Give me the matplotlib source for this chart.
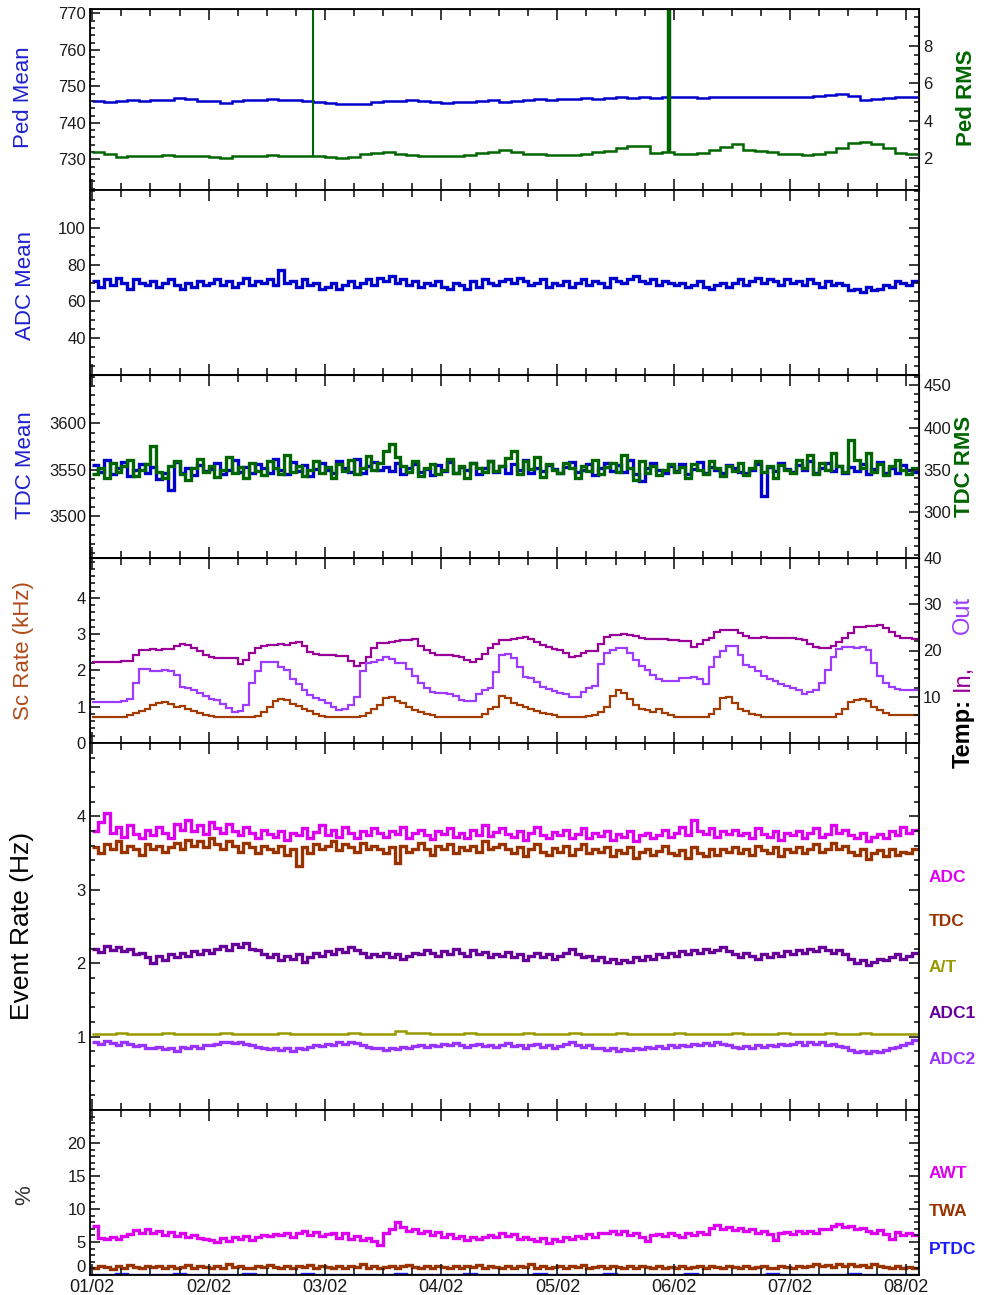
import numpy as np
import matplotlib
matplotlib.use("Agg")
import matplotlib.pyplot as plt
from matplotlib.ticker import MultipleLocator, FixedLocator

plt.rcParams['font.family'] = ['Liberation Sans', 'DejaVu Sans']

# ---------------- data (time in days since 01/02) ----------------
day_labels = ['01/02', '02/02', '03/02', '04/02', '05/02', '06/02', '07/02', '08/02']
T_START, T_END = 0.0, 7.1

# Panel 1: pedestal mean (left) and pedestal RMS (right), 0.1-day bins
ped_mean = [745.9, 745.8, 746.0, 746.2, 746.1, 746.3, 746.2, 746.8, 746.6, 746.1,
            746.0, 745.4, 745.9, 746.2, 746.3, 746.6, 746.3, 746.2, 745.9, 745.8,
            745.5, 745.1, 745.1, 745.3, 745.6, 746.0, 746.1, 746.3, 746.0, 745.6,
            745.5, 745.6, 745.8, 746.0, 746.2, 745.8, 746.1, 746.4, 746.5, 746.2,
            746.6, 746.5, 746.8, 746.6, 746.9, 747.0, 746.9, 747.0, 746.9, 747.0,
            747.0, 747.1, 746.9, 747.1, 747.2, 747.1, 747.0, 747.1, 747.0, 747.1,
            747.0, 747.2, 747.4, 747.6, 747.8, 747.4, 746.4, 746.6, 746.9, 747.0,
            747.0]
ped_rms = [2.35, 2.20, 2.05, 2.10, 2.12, 2.10, 2.15, 2.10, 2.12, 2.10,
           2.05, 2.02, 2.10, 2.12, 2.10, 2.15, 2.10, 2.12, 2.10, 2.10,
           2.08, 2.02, 2.05, 2.20, 2.25, 2.30, 2.22, 2.15, 2.12, 2.10,
           2.10, 2.12, 2.15, 2.25, 2.35, 2.42, 2.35, 2.22, 2.20, 2.18,
           2.18, 2.15, 2.20, 2.30, 2.40, 2.55, 2.62, 2.65, 2.25, 2.30,
           2.20, 2.20, 2.25, 2.45, 2.60, 2.75, 2.45, 2.40, 2.30, 2.22,
           2.20, 2.18, 2.20, 2.35, 2.55, 2.80, 2.85, 2.75, 2.55, 2.25,
           2.20]
ped_rms_spike_day = [1.90, 4.96]
ped_rms_spike_top = [12.0, 12.0]
ped_rms_spike_base = [2.12, 2.28]

# Panel 2: ADC mean, 0.05-day bins
adc_mean = [71, 68, 72, 69, 73, 70, 67, 72, 70, 69,
            71, 68, 70, 72, 69, 67, 70, 68, 71, 69,
            70, 72, 69, 71, 68, 70, 73, 69, 71, 70,
            72, 69, 77, 70, 71, 68, 72, 69, 70, 67,
            68, 70, 67, 69, 71, 68, 70, 72, 69, 73,
            71, 74, 70, 72, 69, 71, 68, 70, 69, 71,
            68, 67, 70, 69, 67, 71, 68, 72, 70, 69,
            71, 72, 70, 73, 71, 69, 70, 72, 68, 70,
            69, 71, 68, 70, 72, 69, 71, 70, 68, 73,
            71, 70, 72, 74, 71, 70, 72, 69, 71, 70,
            69, 70, 68, 69, 71, 68, 67, 69, 70, 68,
            70, 72, 69, 71, 73, 70, 72, 71, 69, 72,
            70, 71, 69, 72, 70, 68, 71, 69, 70, 69,
            66, 67, 65, 68, 66, 67, 69, 68, 71, 70,
            69, 71]

# Panel 3: TDC mean (left) and TDC RMS (right), 0.05-day bins
tdc_mean = [3555, 3548, 3560, 3545, 3552, 3558, 3543, 3550, 3556, 3547,
            3553, 3540, 3546, 3528, 3558, 3546, 3552, 3544, 3555, 3549,
            3551, 3557, 3545, 3550, 3560, 3548, 3553, 3546, 3556, 3552,
            3547, 3562, 3550, 3545, 3558, 3549, 3555, 3543, 3551, 3557,
            3550, 3546, 3559, 3552, 3548, 3562, 3547, 3554, 3558, 3550,
            3553, 3549, 3557, 3545, 3552, 3556, 3548, 3551, 3544, 3555,
            3549, 3558, 3546, 3553, 3550, 3557, 3545, 3552, 3559, 3548,
            3554, 3547, 3556, 3550, 3560, 3546, 3552, 3549, 3555, 3551,
            3546, 3553, 3558, 3548, 3550, 3556, 3544, 3552, 3557, 3549,
            3555, 3548, 3560, 3545, 3538, 3552, 3557, 3550, 3546, 3554,
            3549, 3556, 3545, 3551, 3558, 3547, 3553, 3550, 3546, 3555,
            3552, 3548, 3546, 3550, 3556, 3522, 3553, 3549, 3557, 3551,
            3548, 3555, 3550, 3559, 3546, 3552, 3557, 3549, 3554, 3547,
            3553, 3549, 3556, 3545, 3551, 3558, 3547, 3552, 3546, 3555,
            3550, 3548]
tdc_rms = [345, 352, 340, 358, 347, 355, 362, 343, 350, 357,
           378, 348, 340, 355, 360, 345, 338, 352, 363, 347,
           355, 342, 350, 365, 346, 353, 340, 358, 349, 344,
           360, 352, 345, 367, 348, 355, 343, 350, 361, 346,
           353, 341, 357, 349, 362, 345, 352, 366, 350, 358,
           372, 380, 365, 355, 347, 360, 343, 352, 357, 345,
           350, 363, 346, 355, 341, 358, 352, 347, 360, 349,
           355, 364, 372, 345, 360, 351, 365, 342, 357, 350,
           346, 358, 352, 340, 355, 349, 362, 345, 353, 358,
           347, 368, 352, 338, 360, 346, 355, 344, 350, 357,
           348, 354, 340, 357, 350, 345, 360, 352, 343, 355,
           349, 358, 344, 352, 361, 347, 355, 341, 356, 350,
           346, 362, 352, 368, 345, 358, 350, 370, 355, 348,
           385, 362, 352, 370, 348, 357, 344, 355, 362, 350,
           345, 352]

# Panel 4: scaler rate (kHz, left) and temperatures In / Out (right), 0.05-day bins
sc_rate = [0.72, 0.72, 0.72, 0.72, 0.72, 0.73, 0.78, 0.82, 0.88, 0.95,
           1.05, 1.10, 1.12, 1.08, 1.00, 1.02, 0.95, 0.88, 0.82, 0.78,
           0.75, 0.73, 0.72, 0.72, 0.72, 0.72, 0.72, 0.72, 0.75, 0.85,
           1.00, 1.15, 1.20, 1.18, 1.08, 1.02, 0.95, 0.88, 0.80, 0.75,
           0.72, 0.72, 0.72, 0.72, 0.72, 0.72, 0.75, 0.82, 0.95, 1.05,
           1.25, 1.28, 1.15, 1.10, 1.00, 0.92, 0.85, 0.80, 0.76, 0.73,
           0.72, 0.72, 0.72, 0.72, 0.72, 0.72, 0.72, 0.80, 0.95, 1.00,
           1.30, 1.25, 1.10, 1.05, 0.98, 0.95, 0.88, 0.82, 0.80, 0.76,
           0.72, 0.72, 0.72, 0.72, 0.72, 0.75, 0.76, 0.85, 1.00, 1.30,
           1.45, 1.38, 1.20, 1.05, 0.95, 0.90, 0.85, 0.95, 0.82, 0.76,
           0.72, 0.72, 0.72, 0.72, 0.72, 0.72, 0.80, 0.95, 1.25, 1.28,
           1.10, 0.95, 0.88, 0.80, 0.76, 0.73, 0.72, 0.72, 0.72, 0.72,
           0.72, 0.72, 0.72, 0.72, 0.72, 0.72, 0.72, 0.72, 0.80, 0.95,
           1.12, 1.18, 1.20, 1.15, 1.00, 0.90, 0.82, 0.78, 0.78, 0.78,
           0.78, 0.78]
temp_in = [17.5, 17.5, 17.6, 17.5, 17.5, 17.7, 17.8, 19.0, 20.1, 20.2,
           20.3, 20.2, 20.4, 20.3, 21.0, 21.4, 21.2, 20.5, 19.8, 19.0,
           18.6, 18.4, 18.4, 18.3, 18.4, 17.0, 18.0, 19.5, 20.5, 21.0,
           21.2, 21.2, 21.3, 21.2, 21.6, 21.9, 21.0, 19.7, 19.2, 19.0,
           19.0, 19.0, 18.8, 18.9, 17.8, 16.6, 17.2, 18.5, 20.5, 21.6,
           21.6, 21.8, 22.0, 22.3, 22.3, 22.4, 21.0, 20.2, 19.5, 19.0,
           19.0, 19.1, 18.8, 18.5, 18.0, 17.6, 18.2, 19.3, 20.5, 21.5,
           22.3, 22.3, 22.5, 22.6, 23.0, 22.4, 21.8, 21.2, 20.8, 20.4,
           20.1, 19.5, 18.6, 18.8, 19.5, 19.9, 19.9, 21.5, 23.0, 23.4,
           23.4, 23.5, 23.4, 23.2, 22.6, 22.5, 22.5, 22.4, 22.5, 22.3,
           22.2, 22.0, 22.0, 20.8, 21.5, 22.3, 22.8, 24.0, 24.4, 24.5,
           24.4, 23.8, 23.2, 22.8, 22.8, 22.9, 22.8, 22.7, 22.8, 22.8,
           22.7, 22.5, 22.3, 21.5, 20.8, 20.6, 20.5, 21.0, 21.8, 22.7,
           23.8, 25.0, 25.1, 25.2, 25.3, 25.5, 24.8, 24.0, 23.1, 22.8,
           22.6, 22.4]
temp_out = [8.9, 8.9, 8.9, 8.9, 8.9, 9.0, 9.5, 13.0, 16.1, 16.0,
            15.6, 15.6, 15.7, 15.5, 14.7, 12.2, 12.0, 11.5, 10.8, 10.2,
            9.6, 9.3, 8.5, 7.5, 6.7, 6.9, 8.2, 13.0, 15.5, 17.6,
            17.6, 17.5, 16.5, 15.8, 13.8, 12.8, 11.5, 10.4, 9.8, 9.3,
            8.6, 7.8, 7.1, 7.4, 8.2, 10.0, 15.5, 17.3, 17.6, 18.0,
            18.7, 18.2, 17.3, 17.3, 16.0, 14.5, 13.0, 12.0, 11.0, 10.8,
            10.8, 10.6, 10.2, 9.4, 9.1, 9.1, 10.5, 11.5, 12.0, 15.4,
            19.0, 19.3, 18.4, 16.5, 14.3, 14.0, 13.2, 12.2, 11.6, 11.2,
            10.8, 10.6, 10.0, 10.0, 11.0, 11.8, 12.3, 17.0, 19.5, 20.2,
            20.5, 20.6, 19.5, 18.0, 16.6, 15.8, 14.8, 13.8, 13.3, 13.3,
            13.5, 14.0, 14.0, 14.2, 13.8, 12.8, 16.5, 18.7, 20.0, 21.0,
            21.0, 19.0, 16.9, 16.4, 15.5, 14.5, 13.8, 13.3, 12.8, 12.4,
            12.0, 11.5, 10.7, 11.0, 11.5, 13.0, 15.8, 18.5, 20.3, 20.8,
            20.8, 20.6, 20.8, 20.2, 17.3, 14.5, 13.0, 12.2, 11.6, 11.5,
            11.5, 11.5]

# Panel 5: event rates (Hz), 0.05-day bins
rate_adc = [3.80, 3.92, 4.05, 3.78, 3.85, 3.72, 3.88, 3.76, 3.70, 3.82,
            3.74, 3.86, 3.78, 3.70, 3.90, 3.82, 3.95, 3.80, 3.88, 3.76,
            3.92, 3.84, 3.78, 3.90, 3.80, 3.74, 3.85, 3.78, 3.70, 3.82,
            3.76, 3.72, 3.80, 3.68, 3.78, 3.74, 3.84, 3.70, 3.79, 3.88,
            3.75, 3.82, 3.72, 3.86, 3.78, 3.70, 3.80, 3.74, 3.84, 3.77,
            3.72, 3.80, 3.76, 3.86, 3.70, 3.78, 3.82, 3.74, 3.69, 3.80,
            3.76, 3.84, 3.72, 3.78, 3.70, 3.82, 3.75, 3.88, 3.73, 3.79,
            3.84, 3.76, 3.72, 3.80, 3.68, 3.78, 3.85, 3.74, 3.70, 3.79,
            3.74, 3.82, 3.70, 3.76, 3.84, 3.71, 3.78, 3.73, 3.80, 3.68,
            3.76, 3.72, 3.80, 3.66, 3.74, 3.78, 3.70, 3.75, 3.82, 3.72,
            3.78, 3.86, 3.74, 3.95, 3.80, 3.76, 3.84, 3.72, 3.80, 3.76,
            3.82, 3.74, 3.78, 3.70, 3.84, 3.76, 3.72, 3.80, 3.68, 3.77,
            3.74, 3.80, 3.70, 3.78, 3.84, 3.72, 3.76, 3.88, 3.78, 3.82,
            3.74, 3.70, 3.78, 3.66, 3.72, 3.76, 3.70, 3.80, 3.74, 3.86,
            3.78, 3.82]
rate_tdc = [3.58, 3.50, 3.62, 3.55, 3.66, 3.52, 3.60, 3.56, 3.48, 3.62,
            3.55, 3.60, 3.52, 3.58, 3.64, 3.56, 3.68, 3.60, 3.66, 3.58,
            3.70, 3.62, 3.56, 3.66, 3.60, 3.52, 3.64, 3.58, 3.50, 3.60,
            3.56, 3.52, 3.60, 3.48, 3.56, 3.32, 3.58, 3.50, 3.62, 3.55,
            3.60, 3.66, 3.54, 3.62, 3.58, 3.52, 3.64, 3.56, 3.60, 3.55,
            3.50, 3.58, 3.36, 3.60, 3.52, 3.56, 3.64, 3.55, 3.48, 3.60,
            3.56, 3.62, 3.50, 3.58, 3.54, 3.60, 3.52, 3.66, 3.55, 3.58,
            3.62, 3.55, 3.50, 3.58, 3.46, 3.56, 3.62, 3.52, 3.48, 3.57,
            3.52, 3.60, 3.48, 3.55, 3.62, 3.50, 3.56, 3.52, 3.58, 3.46,
            3.54, 3.50, 3.58, 3.44, 3.52, 3.56, 3.48, 3.53, 3.60, 3.50,
            3.48, 3.54, 3.44, 3.58, 3.50, 3.46, 3.55, 3.48, 3.56, 3.52,
            3.58, 3.50, 3.55, 3.48, 3.60, 3.54, 3.50, 3.58, 3.46, 3.55,
            3.52, 3.58, 3.50, 3.56, 3.62, 3.52, 3.55, 3.64, 3.56, 3.60,
            3.52, 3.48, 3.55, 3.42, 3.50, 3.54, 3.46, 3.56, 3.48, 3.52,
            3.50, 3.56]
rate_adc1 = [2.20, 2.15, 2.24, 2.18, 2.22, 2.16, 2.20, 2.12, 2.14, 2.08,
             2.00, 2.10, 2.05, 2.12, 2.08, 2.14, 2.10, 2.16, 2.12, 2.18,
             2.14, 2.20, 2.24, 2.18, 2.26, 2.22, 2.27, 2.20, 2.18, 2.12,
             2.08, 2.12, 2.05, 2.10, 2.06, 2.12, 2.02, 2.08, 2.14, 2.10,
             2.16, 2.12, 2.20, 2.15, 2.22, 2.18, 2.14, 2.08, 2.12, 2.10,
             2.14, 2.08, 2.12, 2.06, 2.10, 2.14, 2.12, 2.18, 2.14, 2.10,
             2.16, 2.12, 2.20, 2.14, 2.10, 2.18, 2.12, 2.15, 2.09, 2.13,
             2.10, 2.15, 2.08, 2.12, 2.05, 2.10, 2.14, 2.08, 2.12, 2.06,
             2.10, 2.14, 2.20, 2.12, 2.08, 2.10, 2.04, 2.08, 2.02, 2.06,
             2.00, 2.05, 2.02, 2.08, 2.04, 2.10, 2.06, 2.12, 2.08, 2.14,
             2.10, 2.16, 2.12, 2.18, 2.14, 2.20, 2.15, 2.18, 2.22, 2.16,
             2.12, 2.08, 2.14, 2.10, 2.06, 2.12, 2.08, 2.14, 2.10, 2.16,
             2.12, 2.18, 2.14, 2.20, 2.16, 2.22, 2.18, 2.14, 2.18, 2.12,
             2.06, 2.00, 2.04, 1.98, 2.02, 2.06, 2.04, 2.08, 2.12, 2.06,
             2.10, 2.14]
rate_at = [1.04, 1.04, 1.05, 1.04, 1.04, 1.04, 1.05, 1.04, 1.04, 1.04,
           1.04, 1.05, 1.04, 1.04, 1.04, 1.04, 1.05, 1.04, 1.04, 1.04,
           1.04, 1.04, 1.05, 1.04, 1.04, 1.04, 1.07, 1.05, 1.05, 1.04,
           1.04, 1.04, 1.05, 1.04, 1.04, 1.04, 1.04, 1.05, 1.04, 1.04,
           1.04, 1.05, 1.04, 1.04, 1.04, 1.05, 1.04, 1.04, 1.04, 1.04,
           1.05, 1.04, 1.04, 1.04, 1.04, 1.05, 1.04, 1.04, 1.04, 1.05,
           1.04, 1.04, 1.04, 1.05, 1.04, 1.04, 1.05, 1.04, 1.04, 1.04,
           1.04]
rate_adc2 = [0.92, 0.90, 0.94, 0.91, 0.89, 0.92, 0.90, 0.87, 0.88, 0.85,
             0.84, 0.86, 0.83, 0.85, 0.81, 0.86, 0.84, 0.87, 0.85, 0.88,
             0.88, 0.90, 0.92, 0.93, 0.91, 0.93, 0.90, 0.88, 0.86, 0.84,
             0.83, 0.85, 0.82, 0.84, 0.81, 0.85, 0.83, 0.86, 0.88, 0.87,
             0.90, 0.88, 0.92, 0.90, 0.93, 0.91, 0.89, 0.86, 0.84, 0.85,
             0.82, 0.85, 0.83, 0.86, 0.84, 0.87, 0.88, 0.86, 0.89, 0.87,
             0.90, 0.88, 0.91, 0.89, 0.86, 0.88, 0.90, 0.87, 0.89, 0.86,
             0.88, 0.91, 0.87, 0.89, 0.85, 0.88, 0.90, 0.86, 0.88, 0.84,
             0.87, 0.90, 0.92, 0.88, 0.86, 0.88, 0.84, 0.85, 0.82, 0.84,
             0.81, 0.83, 0.82, 0.85, 0.83, 0.86, 0.84, 0.87, 0.85, 0.88,
             0.86, 0.89, 0.87, 0.90, 0.88, 0.91, 0.89, 0.92, 0.90, 0.88,
             0.86, 0.84, 0.87, 0.85, 0.88, 0.86, 0.89, 0.87, 0.90, 0.88,
             0.90, 0.92, 0.89, 0.93, 0.90, 0.92, 0.88, 0.90, 0.87, 0.86,
             0.82, 0.79, 0.81, 0.78, 0.80, 0.79, 0.82, 0.84, 0.86, 0.88,
             0.91, 0.95]

# Panel 6: percentages
pct_awt = [7.4, 5.6, 5.4, 5.8, 5.5, 5.9, 6.2, 6.8, 6.4, 6.9,
           6.3, 6.7, 6.1, 6.5, 5.9, 6.3, 5.7, 6.0, 5.6, 5.4,
           5.3, 5.0, 5.6, 5.2, 5.7, 5.5, 5.9, 5.3, 5.8, 6.1,
           5.9, 6.2, 6.0, 6.4, 5.8, 6.3, 6.6, 6.1, 6.5, 5.9,
           6.2, 6.4, 5.6, 6.3, 5.5, 5.9, 5.3, 5.6, 5.1, 4.6,
           6.4, 7.0, 8.0, 7.2, 6.6, 6.9, 6.3, 6.7, 6.0, 6.5,
           5.8, 6.2, 5.6, 5.9, 5.3, 5.7, 5.4, 5.8, 6.1, 5.7,
           6.3, 5.9, 6.2, 5.5, 5.8, 5.4, 5.1, 5.6, 4.9, 5.5,
           5.2, 5.7, 5.4, 5.9, 5.6, 6.2, 5.8, 6.4, 6.3, 6.7,
           6.2, 6.6, 6.0, 6.4, 5.8, 5.1, 6.0, 6.2, 5.9, 6.3,
           6.1, 5.8, 6.3, 6.0, 6.5, 6.2, 7.1, 7.6, 6.9, 7.3,
           6.8, 7.1, 6.6, 6.9, 6.4, 6.7, 6.2, 5.3, 6.3, 6.5,
           6.2, 6.6, 6.3, 6.7, 6.4, 6.9, 7.0, 7.4, 7.8, 7.2,
           7.5, 6.9, 7.1, 6.6, 6.4, 6.8, 6.2, 5.5, 6.5, 6.1,
           6.4, 6.0]
pct_twa = [1.0, 1.4, 1.2, 0.9, 1.3, 1.1, 1.5, 1.2, 1.0, 1.3,
           1.2, 1.4, 1.1, 1.3, 1.0, 1.2, 1.5, 1.1, 1.3, 1.2,
           1.0, 1.3, 1.1, 1.6, 1.2, 1.4, 1.1, 1.0, 1.3, 1.2,
           1.5, 1.2, 1.1, 1.4, 1.0, 1.3, 1.2, 1.5, 1.1, 1.3,
           1.2, 1.0, 1.4, 1.1, 1.3, 1.2, 1.6, 1.1, 1.3, 1.0,
           1.2, 1.4, 1.1, 1.3, 1.5, 1.2, 1.0, 1.3, 1.1, 1.4,
           1.2, 1.1, 1.3, 1.0, 1.4, 1.2, 1.5, 1.1, 1.3, 1.2,
           1.0, 1.3, 1.1, 1.4, 1.2, 1.6, 1.1, 1.3, 1.0, 1.2,
           1.4, 1.1, 1.3, 1.2, 1.5, 1.0, 1.2, 1.4, 1.1, 1.3,
           1.2, 1.0, 1.3, 1.1, 1.4, 1.2, 1.1, 1.3, 1.0, 1.2,
           1.1, 1.3, 1.0, 1.2, 1.4, 1.1, 1.3, 1.2, 1.0, 1.3,
           1.2, 1.1, 1.4, 1.0, 1.2, 1.3, 1.1, 1.0, 1.3, 1.2,
           1.1, 1.3, 1.2, 1.4, 1.6, 1.3, 1.5, 1.2, 1.6, 1.4,
           1.7, 1.3, 1.5, 1.2, 1.6, 1.4, 1.2, 1.1, 1.3, 1.0,
           1.2, 1.1]
pct_ptdc = [0.03, 0.03, 0.20, 0.03, 0.03, 0.03, 0.03, 0.15, 0.03, 0.03,
            0.03, 0.03, 0.03, 0.20, 0.03, 0.03, 0.03, 0.03, 0.15, 0.03,
            0.03, 0.03, 0.03, 0.03, 0.03, 0.03, 0.20, 0.03, 0.03, 0.03,
            0.03, 0.03, 0.15, 0.03, 0.03, 0.03, 0.03, 0.03, 0.20, 0.03,
            0.03, 0.03, 0.03, 0.03, 0.15, 0.03, 0.03, 0.03, 0.03, 0.03,
            0.03, 0.20, 0.03, 0.03, 0.03, 0.03, 0.03, 0.03, 0.15, 0.03,
            0.03, 0.03, 0.03, 0.03, 0.03, 0.20, 0.03, 0.03, 0.03, 0.03,
            0.03]

# ---------------- styling ----------------
W, H = 984, 1295
X0, X1 = 90, 919
C_BLUE = '#0000cc'
C_GREEN = '#006600'
C_BROWN = '#a33c00'
C_IN = '#990099'
C_OUT = '#9d3cff'
C_ADC = '#dd00f0'
C_TDC = '#993300'
C_ADC1 = '#660099'
C_AT = '#999900'
C_ADC2 = '#9933ff'
C_PTDC = '#1a1aff'
C_TXT = '#1a1a1a'

fig = plt.figure(figsize=(W / 100, H / 100), dpi=100)


def rect(top, bot):
    return [X0 / W, 1 - bot / H, (X1 - X0) / W, (bot - top) / H]


def edges(v):
    return np.linspace(T_START, T_END, len(v) + 1)


def style(ax, ylim, major, minor, bottom_labels=False, mirror=True):
    ax.set_xlim(-0.02, 7.11)
    ax.set_ylim(*ylim)
    ax.xaxis.set_major_locator(FixedLocator(list(range(8))))
    ax.xaxis.set_minor_locator(MultipleLocator(0.25))
    ax.yaxis.set_major_locator(FixedLocator(major))
    ax.yaxis.set_minor_locator(MultipleLocator(minor))
    ax.tick_params(axis='x', which='both', direction='in', top=True, bottom=True,
                   labelbottom=bottom_labels, width=1.2, colors=C_TXT,
                   labelsize=13, pad=3)
    ax.tick_params(axis='x', which='major', length=8)
    ax.tick_params(axis='x', which='minor', length=5)
    ax.tick_params(axis='y', which='both', direction='in', left=True, right=mirror,
                   width=1.2, colors=C_TXT, labelsize=12, pad=3)
    ax.tick_params(axis='y', which='major', length=7)
    ax.tick_params(axis='y', which='minor', length=3.5)
    for s in ax.spines.values():
        s.set_linewidth(1.3)
        s.set_color('black')


def style_right(ax2, ylim, major, minor):
    ax2.set_ylim(*ylim)
    ax2.yaxis.set_major_locator(FixedLocator(major))
    ax2.yaxis.set_minor_locator(MultipleLocator(minor))
    ax2.tick_params(axis='y', which='both', direction='in', right=True, left=False,
                    width=1.2, colors=C_TXT, labelsize=12, pad=3)
    ax2.tick_params(axis='y', which='major', length=7)
    ax2.tick_params(axis='y', which='minor', length=3.5)


LW = 1.6      # smooth traces
LWN = 2.4     # noisy traces (dense bands in the reference)

# Panel 1
ax1 = fig.add_axes(rect(9, 190))
style(ax1, (721.6, 771.2), [730, 740, 750, 760, 770], 2, mirror=False)
ax1.stairs(ped_mean, edges(ped_mean), color=C_BLUE, lw=1.8, baseline=None)
ax1b = ax1.twinx()
style_right(ax1b, (0.3, 9.95), [2, 4, 6, 8], 0.5)
ax1b.stairs(ped_rms, edges(ped_rms), color=C_GREEN, lw=1.8, baseline=None)
ax1b.vlines(ped_rms_spike_day, ped_rms_spike_base, ped_rms_spike_top,
            colors=C_GREEN, linewidths=[1.5, 3.2])

# Panel 2
ax2 = fig.add_axes(rect(190, 375))
style(ax2, (20, 120.6), [40, 60, 80, 100], 5)
ax2.stairs(adc_mean, edges(adc_mean), color=C_BLUE, lw=LWN, baseline=None)

# Panel 3
ax3 = fig.add_axes(rect(375, 558))
style(ax3, (3455, 3652), [3500, 3550, 3600], 10, mirror=False)
ax3.stairs(tdc_mean, edges(tdc_mean), color=C_BLUE, lw=LWN, baseline=None)
ax3b = ax3.twinx()
style_right(ax3b, (246, 462), [300, 350, 400, 450], 10)
ax3b.stairs(tdc_rms, edges(tdc_rms), color=C_GREEN, lw=LWN, baseline=None)

# Panel 4
ax4 = fig.add_axes(rect(558, 743))
style(ax4, (0, 5.1), [0, 1, 2, 3, 4], 0.2, mirror=False)
ax4.stairs(sc_rate, edges(sc_rate), color=C_BROWN, lw=LW, baseline=None)
ax4b = ax4.twinx()
style_right(ax4b, (0, 40), [10, 20, 30, 40], 2)
ax4b.stairs(temp_in, edges(temp_in), color=C_IN, lw=LW, baseline=None)
ax4b.stairs(temp_out, edges(temp_out), color=C_OUT, lw=LW, baseline=None)

# Panel 5
ax5 = fig.add_axes(rect(743, 1110))
style(ax5, (0, 5), [1, 2, 3, 4], 0.2)
ax5.stairs(rate_adc, edges(rate_adc), color=C_ADC, lw=LWN, baseline=None)
ax5.stairs(rate_tdc, edges(rate_tdc), color=C_TDC, lw=LWN, baseline=None)
ax5.stairs(rate_adc1, edges(rate_adc1), color=C_ADC1, lw=LWN, baseline=None)
ax5.stairs(rate_at, edges(rate_at), color=C_AT, lw=1.8, baseline=None)
ax5.stairs(rate_adc2, edges(rate_adc2), color=C_ADC2, lw=LWN, baseline=None)

# Panel 6
ax6 = fig.add_axes(rect(1110, 1275))
style(ax6, (0, 25), [0, 5, 10, 15, 20], 1, bottom_labels=True)
ax6.stairs(pct_awt, edges(pct_awt), color=C_ADC, lw=LWN, baseline=None)
ax6.stairs(pct_twa, edges(pct_twa), color=C_TDC, lw=LWN, baseline=None)
ax6.stairs(pct_ptdc, edges(pct_ptdc), color=C_PTDC, lw=2.4, baseline=None)
ax6.set_xticklabels(day_labels)
# lift the "0" label a little so it does not sit on top of "01/02"
ax6.yaxis.get_major_ticks()[0].label1.set_verticalalignment('bottom')


# ---------------- labels ----------------
def ftext(x, y, s, **kw):
    fig.text(x / W, 1 - y / H, s, ha=kw.pop('ha', 'center'), va=kw.pop('va', 'center'), **kw)


ftext(24, 97, 'Ped Mean', rotation=90, color='#2020d0', fontsize=16)
ftext(26, 285, 'ADC Mean', rotation=90, color='#2020d0', fontsize=16)
ftext(26, 465, 'TDC Mean', rotation=90, color='#2020d0', fontsize=16)
ftext(23, 651, 'Sc Rate (kHz)', rotation=90, color='#b04a1a', fontsize=16)
ftext(22, 926, 'Event Rate (Hz)', rotation=90, color='black', fontsize=19)
ftext(25, 1195, '%', rotation=90, color='#333333', fontsize=16)

ftext(966, 98, 'Ped RMS', rotation=90, color=C_GREEN, fontsize=16, fontweight='bold')
ftext(965, 466, 'TDC RMS', rotation=90, color=C_GREEN, fontsize=16, fontweight='bold')
ftext(963, 733, 'Temp:', rotation=90, color='black', fontsize=17, fontweight='bold')
ftext(963, 678, 'In,', rotation=90, color=C_IN, fontsize=17)
ftext(963, 615, 'Out', rotation=90, color=C_OUT, fontsize=17)

for lab, col, y in [('ADC', C_ADC, 877), ('TDC', C_TDC, 922), ('A/T', C_AT, 967),
                    ('ADC1', C_ADC1, 1013), ('ADC2', C_ADC2, 1060)]:
    ftext(929, y, lab, ha='left', color=col, fontsize=12.5, fontweight='bold')
for lab, col, y in [('AWT', C_ADC, 1173), ('TWA', C_TDC, 1212), ('PTDC', C_PTDC, 1250)]:
    ftext(929, y, lab, ha='left', color=col, fontsize=12.5, fontweight='bold')

fig.savefig('out.png', dpi=100)
